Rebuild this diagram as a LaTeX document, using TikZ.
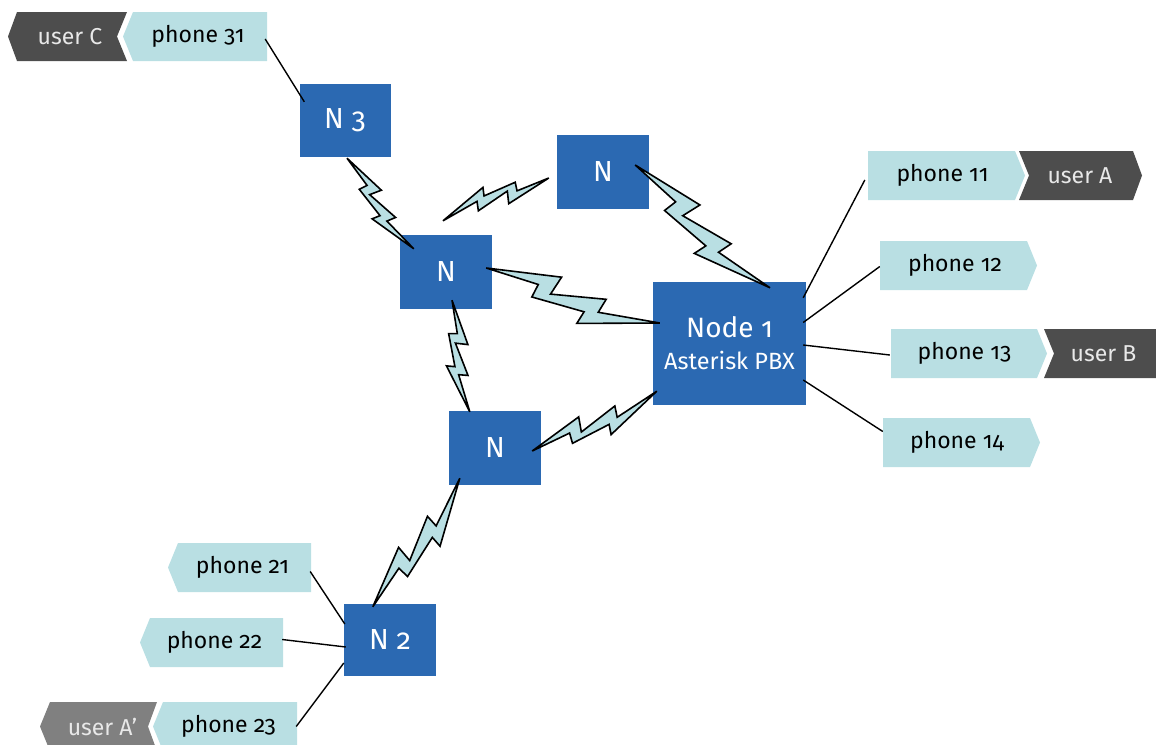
\documentclass[tikz,border=0pt]{standalone}
\usepackage{fontspec}
\setmainfont{Fira Sans}[Numbers=OldStyle]
\usetikzlibrary{calc,backgrounds}
\definecolor{boxblue}{RGB}{43,105,178}
\definecolor{tagblue}{RGB}{185,223,227}
\definecolor{userdark}{RGB}{77,77,77}
\definecolor{usergray}{RGB}{128,128,128}
\definecolor{usertext}{RGB}{232,232,232}
\tikzset{
  nbox/.style={rectangle, fill=boxblue, text=white, inner sep=0pt,
    minimum width=92pt, minimum height=74pt, font=\fontsize{29}{32}\selectfont},
  tagtxt/.style={rectangle, inner sep=0pt, minimum height=49pt, text=black,
    font=\fontsize{23}{26}\selectfont},
  usertxt/.style={tagtxt, text=usertext},
  phonebg/.style={fill=tagblue},
  userbg/.style={fill=userdark},
  usergraybg/.style={fill=usergray},
  bolt/.style={fill=tagblue, draw=black, line width=1.6pt, line join=miter, miter limit=10},
  wire/.style={draw=black, line width=1.4pt},
}
\newcommand\zap[2]{%
  \filldraw[bolt] (#1)
  -- ($(#1)!.41!(#2)+(#1)!.077!90:(#2)-(#1)$)
  -- ($(#1)!.38!(#2)+(#1)!-.03!90:(#2)-(#1)$)
  -- ($(#1)!.68!(#2)+(#1)!.035!90:(#2)-(#1)$)
  -- ($(#1)!.66!(#2)+(#1)!-.046!90:(#2)-(#1)$)
  -- (#2)
  -- ($(#1)!.566!(#2)+(#1)!-.14!90:(#2)-(#1)$)
  -- ($(#1)!.585!(#2)+(#1)!-.067!90:(#2)-(#1)$)
  -- ($(#1)!.287!(#2)+(#1)!-.076!90:(#2)-(#1)$)
  -- ($(#1)!.30!(#2)$)
  -- cycle;}
\begin{document}
\begin{tikzpicture}[x=1pt,y=-1pt]
\useasboundingbox (0,0) rectangle (1156,744);
\clip (0,0) rectangle (1156,744);

% network nodes
\node[nbox, minimum width=91pt, minimum height=73pt] (n3) at (345,120.5) {N 3};
\node[nbox] (ntop) at (603,172) {N};
\node[nbox] (nmid) at (446,272) {N};
\node[nbox] (nlow) at (495,448) {N};
\node[nbox, minimum width=153pt, minimum height=123pt, align=center] (node1) at (729.5,343.5)
  {\fontsize{28}{32}\selectfont Node 1\\\fontsize{23.5}{32}\selectfont Asterisk PBX};
\node[nbox, minimum height=72pt] (n2) at (390,640) {N 2};

% tags (text nodes sized to the tag bodies)
\node[tagtxt, minimum width=134pt] (ph31) at (198,36.5) {phone 31};
\node[usertxt] (uC) at (70,36.5) {user C};
\node[tagtxt, minimum width=147pt] (ph11) at (942.5,175.5) {phone 11};
\node[usertxt] (uA) at (1080,175.5) {user A};
\node[tagtxt, minimum width=147pt] (ph12) at (955,265.5) {phone 12};
\node[tagtxt, minimum width=146pt] (ph13) at (964.5,353.5) {phone 13};
\node[usertxt] (uB) at (1103.5,353.5) {user B};
\node[tagtxt, minimum width=147pt] (ph14) at (957,442.5) {phone 14};
\node[tagtxt, minimum width=133pt] (ph21) at (242.5,567.5) {phone 21};
\node[tagtxt, minimum width=133pt] (ph22) at (214.5,642.5) {phone 22};
\node[tagtxt, minimum width=134pt] (ph23) at (228.5,726.5) {phone 23};
\node[usertxt] (uAp) at (102.5,726.5) {user A’};

\begin{scope}[on background layer]
  \fill[phonebg] (133,12) -- (267,12) -- (267,61) -- (133,61) -- (123,36.5) -- cycle;
  \fill[userbg] (17,12) -- (127,12) -- (117,36.5) -- (127,61) -- (17,61) -- (8,36.5) -- cycle;
  \fill[phonebg] (868,151) -- (1015,151) -- (1025,175.5) -- (1015,200) -- (868,200) -- cycle;
  \fill[userbg] (1019,151) -- (1133,151) -- (1142,175.5) -- (1133,200) -- (1019,200) -- (1029,175.5) -- cycle;
  \fill[phonebg] (880,241) -- (1027,241) -- (1037,265.5) -- (1027,290) -- (880,290) -- cycle;
  \fill[phonebg] (891,329) -- (1037,329) -- (1047,353.5) -- (1037,378) -- (891,378) -- cycle;
  \fill[userbg] (1044,329) -- (1160,329) -- (1160,378) -- (1044,378) -- (1054,353.5) -- cycle;
  \fill[phonebg] (883,418) -- (1030,418) -- (1040,442.5) -- (1030,467) -- (883,467) -- cycle;
  \fill[phonebg] (178,543) -- (311,543) -- (311,592) -- (178,592) -- (168,567.5) -- cycle;
  \fill[phonebg] (150,618) -- (283,618) -- (283,667) -- (150,667) -- (140,642.5) -- cycle;
  \fill[phonebg] (163,702) -- (297,702) -- (297,751) -- (163,751) -- (153,726.5) -- cycle;
  \fill[usergraybg] (50,702) -- (157,702) -- (148,726.5) -- (157,751) -- (50,751) -- (40,726.5) -- cycle;
\end{scope}

% bolt end points
\coordinate (b1a) at ($(n3.south)+(2,1)$);
\coordinate (b1b) at ($(nmid.north west)+(14,14)$);
\coordinate (b2a) at ($(ntop.west)+(-8,6)$);
\coordinate (b2b) at ($(nmid.north)+(-3,-14)$);
\coordinate (b3a) at ($(ntop.east)+(-14,-7)$);
\coordinate (b3b) at ($(node1.north)+(40.5,6)$);
\coordinate (b4a) at ($(nmid.east)+(-6,-4)$);
\coordinate (b4b) at ($(node1.west)+(7,-20.5)$);
\coordinate (b5a) at ($(nmid.south)+(6,-9)$);
\coordinate (b5b) at ($(nlow.north west)+(21,1)$);
\coordinate (b6a) at ($(nlow.east)+(-9,3)$);
\coordinate (b6b) at ($(node1.south west)+(4,-14)$);
\coordinate (b7a) at ($(n2.north west)+(29,3)$);
\coordinate (b7b) at ($(nlow.south west)+(11,-7)$);

\zap{b1a}{b1b}
\zap{b2a}{b2b}
\zap{b3a}{b3b}
\zap{b4a}{b4b}
\zap{b5a}{b5b}
\zap{b6a}{b6b}
\zap{b7a}{b7b}

% wires
\draw[wire] ($(ph31.east)+(0,2.5)$) -- ($(n3.north west)+(5,18)$);
\draw[wire] ($(ph11.west)+(-4,4.5)$) -- ($(node1.north east)+(-3,16)$);
\draw[wire] ($(ph12.west)+(-1.5,1)$) -- ($(node1.east)+(-3,-21)$);
\draw[wire] ($(ph13.west)+(-1.5,1.5)$) -- ($(node1.east)+(-3,1.5)$);
\draw[wire] ($(ph14.west)+(-0.5,-11)$) -- ($(node1.east)+(-3,36.5)$);
\draw[wire] ($(ph21.east)+(1,4)$) -- ($(n2.west)+(1,-16)$);
\draw[wire] ($(ph22.east)+(1,-3)$) -- ($(n2.west)+(2,7)$);
\draw[wire] ($(ph23.east)+(0.5,0)$) -- ($(n2.west)+(0,23)$);
\end{tikzpicture}
\end{document}
